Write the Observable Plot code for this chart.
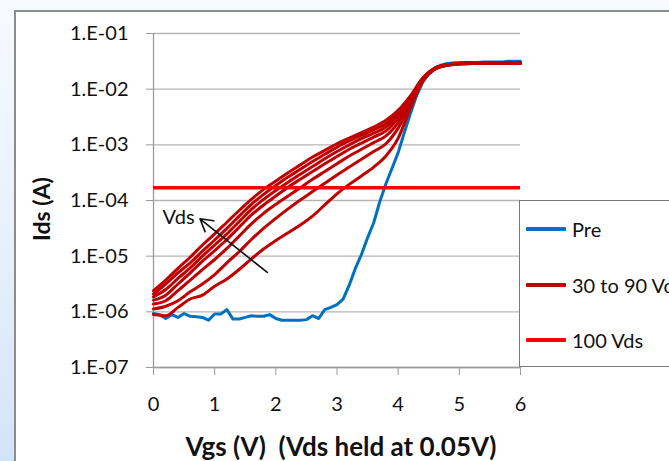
<!DOCTYPE html>
<html>
<head>
<meta charset="utf-8">
<script src="https://cdn.jsdelivr.net/npm/d3@7"></script>
<script src="https://cdn.jsdelivr.net/npm/@observablehq/plot@0.6"></script>
<style>
  html, body { margin: 0; padding: 0; }
  body {
    width: 669px; height: 461px; overflow: hidden; position: relative;
    background: linear-gradient(to bottom, #f7faff 0%, #e6f0fb 55%, #d3e3f7 100%);
    font-family: Lato, "Open Sans", sans-serif; color: #111;
  }
  #panel {
    position: absolute; left: 14px; top: 10px; width: 720px; height: 520px;
    background: #fff; border: 2px solid #8c8c8c; box-sizing: border-box;
  }
  #chart { position: absolute; left: 0; top: 0; }
  #chart svg { background: transparent; font-family: Lato, "Open Sans", sans-serif; }
  .title { position: absolute; font-weight: bold; white-space: nowrap; color: #111; }
  #ytitle { left: 41px; top: 209px; font-size: 23px; transform: translate(-50%, -50%) rotate(-90deg); }
  #xtitle { left: 341px; top: 446px; font-size: 26px; transform: translate(-50%, -50%); }
  #legend {
    position: absolute; left: 519px; top: 200px; width: 170px; height: 167px;
    background: #fff; border: 1.5px solid #7a7a7a; box-sizing: border-box;
  }
  .item { position: absolute; left: 6px; height: 24px; display: flex; align-items: center; font-size: 20px; white-space: nowrap; }
  .swatch { width: 40px; height: 4px; margin-right: 6px; border-radius: 1px; }
</style>
</head>
<body>
<div id="panel"></div>
<div id="chart"></div>
<div id="ytitle" class="title">Ids (A)</div>
<div id="xtitle" class="title">Vgs (V)&nbsp;&nbsp;(Vds held at 0.05V)</div>
<div id="legend"></div>
<script>
// Gate sweep for the pre-stress transfer curve (0.1 V steps)
const vgsPre = [0.0,0.1,0.2,0.3,0.4,0.5,0.6,0.7,0.8,0.9,1.0,1.1,1.2,1.3,1.4,1.5,1.6,1.7,1.8,1.9,
  2.0,2.1,2.2,2.3,2.4,2.5,2.6,2.7,2.8,2.9,3.0,3.1,3.2,3.3,3.4,3.5,3.6,3.7,3.8,3.9,
  4.0,4.1,4.2,4.3,4.4,4.5,4.6,4.7,4.8,4.9,5.0,5.1,5.2,5.3,5.4,5.5,5.6,5.7,5.8,5.9,6.0];
// log10(Ids) of the pre-stress curve
const logIdsPre = [-6.03,-6.05,-6.12,-6.05,-6.10,-6.03,-6.08,-6.09,-6.10,-6.15,-6.04,-6.04,-5.96,-6.13,-6.13,-6.10,-6.07,-6.08,-6.08,-6.05,
  -6.12,-6.15,-6.15,-6.15,-6.15,-6.14,-6.07,-6.12,-5.96,-5.92,-5.87,-5.77,-5.52,-5.22,-4.97,-4.67,-4.40,-4.02,-3.70,-3.42,
  -3.14,-2.78,-2.44,-2.12,-1.88,-1.72,-1.62,-1.57,-1.54,-1.53,-1.52,-1.52,-1.52,-1.52,-1.51,-1.51,-1.51,-1.51,-1.50,-1.50,-1.50];

// Gate sweep for the stressed curves (0.2 V steps)
const vgsStress = [0.0,0.2,0.4,0.6,0.8,1.0,1.2,1.4,1.6,1.8,2.0,2.2,2.4,2.6,2.8,3.0,3.2,3.4,3.6,3.8,
  4.0,4.2,4.4,4.6,4.8,5.0,5.2,5.4,5.6,5.8,6.0];
// log10(Ids) after stress at each drain bias
const logIds30 = [-6.05,-6.07,-5.92,-5.77,-5.70,-5.54,-5.41,-5.24,-5.05,-4.87,-4.72,-4.58,-4.44,-4.28,-4.08,-3.88,-3.71,-3.56,-3.40,-3.20,
  -2.88,-2.34,-1.86,-1.64,-1.57,-1.55,-1.54,-1.54,-1.53,-1.53,-1.53];
const logIds40 = [-5.95,-5.90,-5.80,-5.64,-5.50,-5.33,-5.12,-4.92,-4.70,-4.50,-4.32,-4.15,-3.99,-3.84,-3.69,-3.54,-3.40,-3.26,-3.12,-2.98,
  -2.70,-2.29,-1.85,-1.64,-1.57,-1.55,-1.54,-1.53,-1.53,-1.53,-1.53];
const logIds50 = [-5.86,-5.80,-5.62,-5.43,-5.24,-5.06,-4.86,-4.64,-4.42,-4.23,-4.07,-3.92,-3.77,-3.62,-3.48,-3.34,-3.20,-3.08,-2.96,-2.84,
  -2.60,-2.25,-1.84,-1.63,-1.57,-1.54,-1.53,-1.53,-1.53,-1.53,-1.53];
const logIds60 = [-5.79,-5.70,-5.50,-5.30,-5.09,-4.90,-4.70,-4.48,-4.26,-4.08,-3.92,-3.76,-3.62,-3.48,-3.34,-3.21,-3.08,-2.97,-2.86,-2.75,
  -2.52,-2.21,-1.83,-1.63,-1.56,-1.54,-1.53,-1.53,-1.53,-1.53,-1.53];
const logIds70 = [-5.73,-5.60,-5.40,-5.21,-5.00,-4.80,-4.60,-4.38,-4.16,-3.98,-3.82,-3.67,-3.53,-3.39,-3.25,-3.12,-3.00,-2.89,-2.79,-2.68,
  -2.47,-2.18,-1.82,-1.63,-1.56,-1.54,-1.53,-1.53,-1.53,-1.53,-1.53];
const logIds80 = [-5.68,-5.50,-5.30,-5.12,-4.91,-4.71,-4.50,-4.28,-4.07,-3.89,-3.73,-3.58,-3.44,-3.30,-3.17,-3.04,-2.93,-2.83,-2.73,-2.62,
  -2.42,-2.15,-1.81,-1.62,-1.56,-1.54,-1.53,-1.53,-1.53,-1.53,-1.53];
const logIds90 = [-5.62,-5.43,-5.22,-5.02,-4.80,-4.60,-4.39,-4.18,-3.98,-3.80,-3.65,-3.50,-3.36,-3.22,-3.10,-2.98,-2.88,-2.78,-2.68,-2.56,
  -2.38,-2.12,-1.80,-1.62,-1.56,-1.54,-1.53,-1.53,-1.53,-1.53,-1.53];
const stressVds = [30, 40, 50, 60, 70, 80, 90];
const stressLogIds = [logIds30, logIds40, logIds50, logIds60, logIds70, logIds80, logIds90];

// Current at 100 Vds stress (flat across the sweep)
const ids100 = 1.7e-4;

// Axis ticks
const xTicks = [0, 1, 2, 3, 4, 5, 6];
const yTicks = [1e-7, 1e-6, 1e-5, 1e-4, 1e-3, 1e-2, 1e-1];
const yTickLabels = ["1.E-07", "1.E-06", "1.E-05", "1.E-04", "1.E-03", "1.E-02", "1.E-01"];

// Legend entries
const legendLabels = ["Pre", "30 to 90 Vds", "100 Vds"];
const legendColors = ["#0070c0", "#c00000", "#ff0000"];

// Annotation: arrow pointing toward increasing Vds
const vdsNote = {text: "Vds", x: 0.41, y: 5.0e-5};
const vdsArrow = {x1: 1.86, y1: 5.1e-6, x2: 0.76, y2: 4.7e-5};

const preRows = vgsPre.map((v, i) => ({vgs: v, ids: Math.pow(10, logIdsPre[i])}));
const stressRows = stressVds.flatMap((vds, k) =>
  vgsStress.map((v, i) => ({vds, vgs: v, ids: Math.pow(10, stressLogIds[k][i])})));

const chart = Plot.plot({
  width: 669,
  height: 461,
  marginLeft: 153,
  marginRight: 149,
  marginTop: 33,
  marginBottom: 94,
  style: {background: "transparent", fontFamily: "Lato, 'Open Sans', sans-serif", color: "#111"},
  x: {domain: [0, 6]},
  y: {type: "log", domain: [1e-7, 1e-1]},
  marks: [
    Plot.gridY(yTicks, {stroke: "#b5b5b5", strokeOpacity: 1, strokeWidth: 1.3}),
    Plot.ruleX([0], {stroke: "#9a9a9a", strokeWidth: 1.3}),
    Plot.ruleY([1e-7], {stroke: "#9a9a9a", strokeWidth: 1.3}),
    Plot.axisY({ticks: yTicks, tickFormat: d => yTickLabels[yTicks.indexOf(d)], tickSize: 7, tickPadding: 18,
      fontSize: 20, stroke: "#9a9a9a", fill: "#111", label: null}),
    Plot.axisX({ticks: xTicks, tickFormat: d => String(d), tickSize: 8, tickPadding: 21,
      fontSize: 20, stroke: "#9a9a9a", fill: "#111", label: null}),
    Plot.line(preRows, {x: "vgs", y: "ids", stroke: legendColors[0], strokeWidth: 3, strokeLinejoin: "round"}),
    Plot.line(stressRows, {x: "vgs", y: "ids", z: "vds", stroke: legendColors[1], strokeWidth: 3, curve: "monotone-x", strokeLinejoin: "round"}),
    Plot.ruleY([ids100], {x1: 0, x2: 6, stroke: legendColors[2], strokeWidth: 3.5}),
    Plot.text([vdsNote], {x: "x", y: "y", text: "text", fontSize: 20, fill: "#111"}),
    Plot.arrow([vdsArrow], {x1: "x1", y1: "y1", x2: "x2", y2: "y2", stroke: "#111", strokeWidth: 1.6, headLength: 13, bend: 0})
  ]
});
document.getElementById("chart").append(chart);

// Legend box to the right of the plot
const legend = document.getElementById("legend");
const itemTops = [16, 72, 127];
legendLabels.forEach((label, i) => {
  const item = document.createElement("div");
  item.className = "item";
  item.style.top = itemTops[i] + "px";
  const sw = document.createElement("span");
  sw.className = "swatch";
  sw.style.background = legendColors[i];
  item.append(sw, document.createTextNode(label));
  legend.append(item);
});
</script>
</body>
</html>
